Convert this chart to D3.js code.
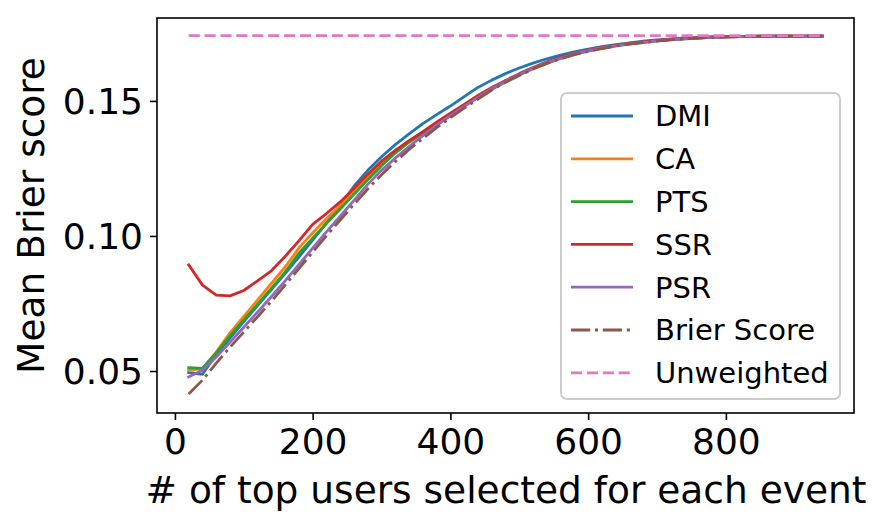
<!DOCTYPE html>
<html><head><meta charset="utf-8">
<script src="https://cdn.jsdelivr.net/npm/d3@7"></script>
<style>body{margin:0;background:#fff}svg{display:block}text{font-family:"DejaVu Sans",sans-serif}</style>
</head><body><svg id="c" width="881" height="524"></svg>
<script>
const users = [20,40,60,80,100,120,140,160,180,200,220,240,260,280,300,320,340,360,380,400,420,440,460,480,500,520,540,560,580,600,620,640,660,680,700,720,740,760,780,800,820,840,860,880,900,920,940];
const dmi = [0.0494,0.0488,0.0560,0.0622,0.0683,0.0742,0.0801,0.0861,0.0922,0.0985,0.1048,0.1112,0.1184,0.1243,0.1293,0.1338,0.1378,0.1416,0.1449,0.1481,0.1516,0.1550,0.1577,0.1601,0.1622,0.1640,0.1656,0.1670,0.1682,0.1692,0.1701,0.1708,0.1715,0.1721,0.1726,0.1730,0.1733,0.1735,0.1737,0.1738,0.1739,0.1740,0.1740,0.1740,0.1740,0.1740,0.1740];
const ca = [0.0504,0.0508,0.0570,0.0641,0.0702,0.0763,0.0824,0.0885,0.0955,0.1012,0.1064,0.1114,0.1164,0.1218,0.1268,0.1313,0.1350,0.1383,0.1417,0.1451,0.1483,0.1515,0.1545,0.1572,0.1598,0.1621,0.1641,0.1659,0.1674,0.1686,0.1697,0.1705,0.1712,0.1718,0.1723,0.1728,0.1731,0.1734,0.1736,0.1737,0.1738,0.1739,0.1740,0.1740,0.1740,0.1740,0.1740];
const pts = [0.0512,0.0510,0.0567,0.0631,0.0689,0.0747,0.0806,0.0866,0.0936,0.0992,0.1046,0.1100,0.1154,0.1208,0.1260,0.1307,0.1347,0.1381,0.1415,0.1449,0.1481,0.1513,0.1543,0.1570,0.1596,0.1619,0.1639,0.1657,0.1672,0.1684,0.1695,0.1704,0.1711,0.1717,0.1722,0.1727,0.1730,0.1733,0.1736,0.1737,0.1738,0.1739,0.1740,0.1740,0.1740,0.1740,0.1740];
const ssr = [0.0893,0.0818,0.0781,0.0778,0.0798,0.0834,0.0871,0.0924,0.0982,0.1043,0.1083,0.1126,0.1176,0.1228,0.1277,0.1317,0.1353,0.1386,0.1421,0.1455,0.1487,0.1520,0.1550,0.1576,0.1601,0.1624,0.1645,0.1662,0.1676,0.1688,0.1698,0.1706,0.1713,0.1719,0.1724,0.1728,0.1731,0.1734,0.1736,0.1737,0.1738,0.1739,0.1740,0.1740,0.1740,0.1740,0.1740];
const psr = [0.0478,0.0503,0.0552,0.0606,0.0662,0.0718,0.0775,0.0834,0.0894,0.0955,0.1015,0.1073,0.1132,0.1191,0.1243,0.1288,0.1331,0.1371,0.1410,0.1445,0.1480,0.1513,0.1545,0.1573,0.1598,0.1621,0.1642,0.1659,0.1674,0.1686,0.1696,0.1704,0.1711,0.1717,0.1722,0.1727,0.1730,0.1733,0.1736,0.1737,0.1738,0.1739,0.1740,0.1740,0.1740,0.1740,0.1740];
const brier = [0.0415,0.0466,0.0529,0.0588,0.0644,0.0701,0.0758,0.0818,0.0879,0.0940,0.1000,0.1059,0.1117,0.1174,0.1227,0.1275,0.1320,0.1361,0.1401,0.1438,0.1473,0.1507,0.1540,0.1569,0.1594,0.1618,0.1639,0.1656,0.1671,0.1683,0.1694,0.1703,0.1710,0.1716,0.1721,0.1726,0.1730,0.1733,0.1735,0.1737,0.1738,0.1739,0.1740,0.1740,0.1740,0.1740,0.1740];
const unweighted = [0.1742,0.1742,0.1742,0.1742,0.1742,0.1742,0.1742,0.1742,0.1742,0.1742,0.1742,0.1742,0.1742,0.1742,0.1742,0.1742,0.1742,0.1742,0.1742,0.1742,0.1742,0.1742,0.1742,0.1742,0.1742,0.1742,0.1742,0.1742,0.1742,0.1742,0.1742,0.1742,0.1742,0.1742,0.1742,0.1742,0.1742,0.1742,0.1742,0.1742,0.1742,0.1742,0.1742,0.1742,0.1742,0.1742,0.1742];
const seriesNames = ["DMI","CA","PTS","SSR","PSR","Brier Score","Unweighted"];
const seriesValues = [dmi, ca, pts, ssr, psr, brier, unweighted];
const xTicks = [0,200,400,600,800];
const yTicks = [0.05,0.10,0.15];
const xLabel = "# of top users selected for each event";
const yLabel = "Mean Brier score";

const colors = ["#1f77b4","#ff7f0e","#2ca02c","#d62728","#9467bd","#8c564b","#e377c2"];
const dashes = [null,null,null,null,null,"19.2,4.8,3,4.8","11.1,4.8"];

const svg = d3.select("#c");
const L = 157, R = 854, T = 18, B = 413;
const x = d3.scaleLinear().domain([-26, 986]).range([L, R]);
const y = d3.scaleLinear().domain([0.03445, 0.1807]).range([B, T]);

const line = d3.line().x((d,i)=>x(users[i])).y(d=>y(d));
const g = svg.append("g");
g.append("defs").append("clipPath").attr("id","clip").append("rect")
  .attr("x",L).attr("y",T).attr("width",R-L).attr("height",B-T);
const plot = g.append("g").attr("clip-path","url(#clip)");
seriesValues.forEach((vals,k)=>{
  plot.append("path").attr("d", line(vals)).attr("fill","none")
    .attr("stroke", colors[k]).attr("stroke-width", 2.8)
    .attr("stroke-dasharray", dashes[k]).attr("stroke-linecap", dashes[k] ? "butt" : "square")
    .attr("stroke-linejoin","round");
});

// axes
const xAxis = d3.axisBottom(x).tickValues(xTicks).tickSize(7).tickPadding(7).tickFormat(d3.format("d"));
const yAxis = d3.axisLeft(y).tickValues(yTicks).tickSize(7).tickPadding(7).tickFormat(d3.format(".2f"));
const gx = svg.append("g").attr("transform",`translate(0,${B})`).call(xAxis);
const gy = svg.append("g").attr("transform",`translate(${L},0)`).call(yAxis);
[gx,gy].forEach(a=>{
  a.select(".domain").remove();
  a.selectAll(".tick line").attr("stroke","#000").attr("stroke-width",1.6);
  a.selectAll(".tick text").attr("fill","#000").style("font-size","36px").style("font-family","DejaVu Sans");
});
gy.selectAll(".tick text").attr("dy","0.36em");
gx.selectAll(".tick text").attr("dy","0.76em");

svg.append("rect").attr("x",L).attr("y",T).attr("width",R-L).attr("height",B-T)
  .attr("fill","none").attr("stroke","#000").attr("stroke-width",1.6);

svg.append("text").attr("x",506).attr("y",503).attr("text-anchor","middle")
  .style("font-size","37.5px").text(xLabel);
svg.append("text").attr("transform",`translate(44,${(T+B)/2}) rotate(-90)`).attr("text-anchor","middle")
  .style("font-size","37.5px").text(yLabel);

// legend
const lg = svg.append("g");
lg.append("rect").attr("x",561).attr("y",93).attr("width",279).attr("height",306).attr("rx",6)
  .attr("fill","#fff").attr("fill-opacity",0.8).attr("stroke","#cccccc").attr("stroke-width",2);
seriesNames.forEach((n,k)=>{
  const yy = 116 + k*42.8;
  lg.append("line").attr("x1",571).attr("x2",633).attr("y1",yy).attr("y2",yy)
    .attr("stroke",colors[k]).attr("stroke-width",2.8).attr("stroke-dasharray",dashes[k]);
  lg.append("text").attr("x",655).attr("y",yy).attr("dy","0.36em").style("font-size","29px").text(n);
});
</script></body></html>
